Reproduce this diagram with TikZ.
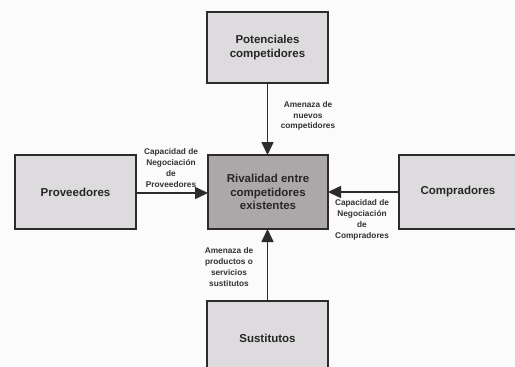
\documentclass[tikz,border=0pt]{standalone}
\usepackage{fontspec}
\setmainfont{Liberation Sans}
\usetikzlibrary{arrows.meta}
\definecolor{boxgray}{RGB}{221,219,221}
\definecolor{centergray}{RGB}{172,168,170}
\definecolor{edgegray}{RGB}{45,42,44}
\tikzset{
  forcebox/.style={draw=edgegray, line width=1.6pt, fill=boxgray, font=\fontsize{11.5}{13.5}\selectfont\bfseries, text=black!85, align=center},
  forcelbl/.style={font=\fontsize{8.3}{10.8}\selectfont\bfseries, text=black!80, align=center, inner sep=0pt},
  forcearrow/.style={draw=edgegray, line width=1.6pt, -{Triangle[length=13pt,width=12pt]}}
}
\begin{document}
\begin{tikzpicture}[x=1pt,y=-1pt]
\useasboundingbox (0,0) rectangle (515,367);
\fill[white!97!gray] (0,0) rectangle (515,367);
\clip (0,0) rectangle (515,367);
% boxes
\draw[forcebox] (207,12) rectangle (328,83);
\node[forcebox, draw=none, fill=none] (top) at (267.5,47.5) {Potenciales\\competidores};
\coordinate (topS) at (267.5,83);
\draw[forcebox, fill=centergray] (208,155) rectangle (328,229);
\node[forcebox, draw=none, fill=none] (ctr) at (268,192) {Rivalidad entre\\competidores\\existentes};
\coordinate (ctrN) at (267.5,155);
\coordinate (ctrW) at (208,193);
\coordinate (ctrE) at (328,192);
\coordinate (ctrS) at (267.5,229);
\draw[forcebox] (15,155) rectangle (136,229);
\node[forcebox, draw=none, fill=none] (left) at (75.5,192) {Proveedores};
\coordinate (leftE) at (136,193);
\draw[forcebox] (399,155) rectangle (530,229);
\node[forcebox, draw=none, fill=none] (right) at (458,192) {Compradores};
\coordinate (rightW) at (399,192);
\draw[forcebox] (207,301) rectangle (328,380);
\node[forcebox, draw=none, fill=none] (bot) at (267.5,338) {Sustitutos};
\coordinate (botN) at (267.5,301);
% arrows
\draw[forcearrow] (topS) -- (ctrN);
\draw[forcearrow] (leftE) -- (ctrW);
\draw[forcearrow] (rightW) -- (ctrE);
\draw[forcearrow] (botN) -- (ctrS);
% labels
\node[forcelbl] (lt) at (308,116) {Amenaza de\\nuevos\\competidores};
\node[forcelbl] (ll) at (171,168) {Capacidad de\\Negociación\\de\\Proveedores};
\node[forcelbl] (lr) at (362,220) {Capacidad de\\Negociación\\de\\Compradores};
\node[forcelbl] (lb) at (229,267) {Amenaza de\\productos o\\servicios\\sustitutos};
\end{tikzpicture}
\end{document}
